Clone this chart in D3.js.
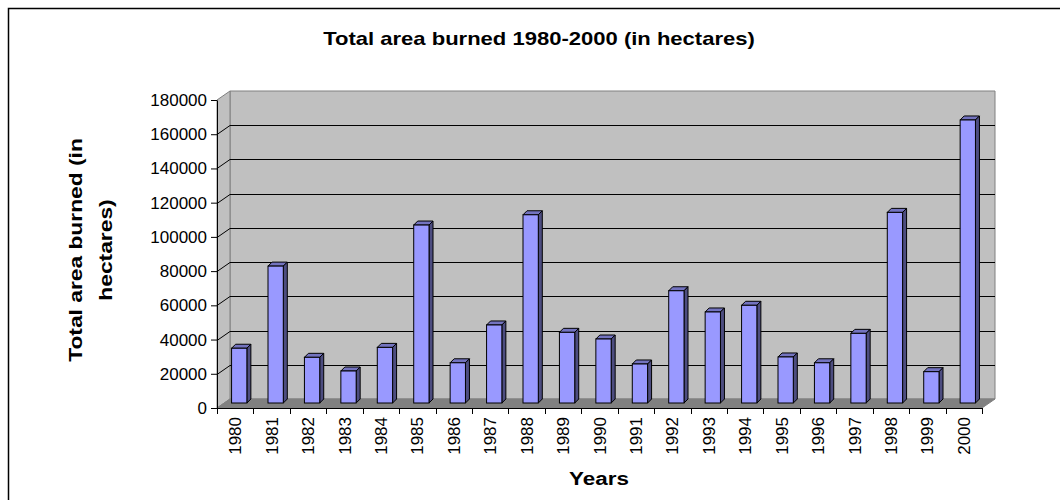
<!DOCTYPE html>
<html>
<head>
<meta charset="utf-8">
<script src="https://cdn.jsdelivr.net/npm/d3@7"></script>
<style>
  body { margin:0; background:#fff; }
  svg text { font-family: "Liberation Sans", Arial, sans-serif; fill:#000; }
</style>
</head>
<body>
<div id="chart"></div>
<script>
// Total area burned 1980-2000 — 3D-style column chart

const years = ["1980","1981","1982","1983","1984","1985","1986","1987","1988","1989","1990",
               "1991","1992","1993","1994","1995","1996","1997","1998","1999","2000"];
const areaBurned = [32000, 80000, 26700, 18700, 32500, 104000, 23500, 45600, 110000, 41300, 37400,
                    22800, 65600, 53200, 57100, 26900, 23500, 40700, 111400, 18300, 165400];
const yTicks = [0, 20000, 40000, 60000, 80000, 100000, 120000, 140000, 160000, 180000];

const W = 1060, H = 500;
const depth = { dx: 13, dy: -9 };      // wall depth
const barDepth = { dx: 4, dy: -4 };    // column depth
const barShift = { dx: 0, dy: -5 };    // columns sit inside the box

const svg = d3.select("#chart").append("svg").attr("width", W).attr("height", H);

// outer frame (runs off the right/bottom edge)
svg.append("rect")
  .attr("x", 8.5).attr("y", 8.5).attr("width", 1100).attr("height", 600)
  .attr("fill", "#fff").attr("stroke", "#000").attr("stroke-width", 1.5);

const x = d3.scaleBand().domain(years).range([217, 982]).padding(0);
const y = d3.scaleLinear().domain([0, 180000]).range([408, 100]);

const x0 = x.range()[0], x1 = x.range()[1];
const yTop = y(180000), yBot = y(0);

const pts = a => a.map(p => p.join(",")).join(" ");

// back wall
svg.append("polygon")
  .attr("points", pts([[x0+depth.dx, yTop+depth.dy],[x1+depth.dx, yTop+depth.dy],
                       [x1+depth.dx, yBot+depth.dy],[x0+depth.dx, yBot+depth.dy]]))
  .attr("fill", "#c0c0c0").attr("stroke", "#808080");
// side wall
svg.append("polygon")
  .attr("points", pts([[x0, yTop],[x0+depth.dx, yTop+depth.dy],[x0+depth.dx, yBot+depth.dy],[x0, yBot]]))
  .attr("fill", "#c0c0c0").attr("stroke", "#808080");
// floor
svg.append("polygon")
  .attr("points", pts([[x0, yBot],[x0+depth.dx, yBot+depth.dy],[x1+depth.dx, yBot+depth.dy],[x1, yBot]]))
  .attr("fill", "#808080").attr("stroke", "#808080");

// gridlines (side wall diagonal + back wall)
const grid = svg.append("g").attr("stroke", "#000").attr("stroke-width", 1).attr("fill", "none");
yTicks.filter(v => v > 0 && v < 180000).forEach(v => {
  const yy = Math.round(y(v)) + 0.5;
  grid.append("polyline")
    .attr("points", pts([[x0, yy],[x0+depth.dx, yy+depth.dy],[x1+depth.dx, yy+depth.dy]]));
});

// columns
const bw = x.bandwidth() * 0.42;
const bars = svg.append("g").selectAll("g").data(years.map((yr,i)=>({yr, v: areaBurned[i]}))).enter().append("g");
const bx = d => x(d.yr) + x.bandwidth()*0.4 + barShift.dx;
const by = d => y(d.v) + barShift.dy;
const bb = yBot + barShift.dy;

bars.append("polygon") // top
  .attr("points", d => pts([[bx(d), by(d)],[bx(d)+barDepth.dx, by(d)+barDepth.dy],
                            [bx(d)+bw+barDepth.dx, by(d)+barDepth.dy],[bx(d)+bw, by(d)]]))
  .attr("fill", "#7373bf").attr("stroke", "#000").attr("stroke-linejoin", "round");
bars.append("polygon") // side
  .attr("points", d => pts([[bx(d)+bw, by(d)],[bx(d)+bw+barDepth.dx, by(d)+barDepth.dy],
                            [bx(d)+bw+barDepth.dx, bb+barDepth.dy],[bx(d)+bw, bb]]))
  .attr("fill", "#4d4d80").attr("stroke", "#000").attr("stroke-linejoin", "round");
bars.append("rect") // front
  .attr("x", bx).attr("y", by).attr("width", bw).attr("height", d => bb - by(d))
  .attr("fill", "#9999ff").attr("stroke", "#000");

// y axis
const yAxis = svg.append("g").attr("transform", `translate(${x0},0)`)
  .call(d3.axisLeft(y).tickValues(yTicks).tickSize(6).tickSizeOuter(0).tickPadding(4).tickFormat(d3.format("d")));
yAxis.select(".domain").attr("stroke", "#000");
yAxis.selectAll("line").attr("stroke", "#000");
yAxis.selectAll("text").style("font-size", "17px").style("font-family", "Liberation Sans, Arial, sans-serif");

// x axis
svg.append("line").attr("x1", x0).attr("x2", x1).attr("y1", yBot+0.5).attr("y2", yBot+0.5).attr("stroke", "#000");
svg.append("g").selectAll("line").data(years.concat(["end"])).enter().append("line")
  .attr("x1", d => Math.round(d === "end" ? x1 : x(d)) + 0.5)
  .attr("x2", d => Math.round(d === "end" ? x1 : x(d)) + 0.5)
  .attr("y1", yBot).attr("y2", yBot + 6).attr("stroke", "#000");
svg.append("g").selectAll("text").data(years).enter().append("text")
  .attr("transform", d => `translate(${x(d) + x.bandwidth()/2 + 6},${yBot + 9}) rotate(-90)`)
  .attr("text-anchor", "end")
  .style("font-size", "17px")
  .text(d => d);

// titles (the original's bold face is wide, so stretch horizontally)
svg.append("text").attr("transform", "translate(539,45) scale(1.16,1)").attr("text-anchor", "middle")
  .style("font-size", "19px").style("font-weight", "bold")
  .text("Total area burned 1980-2000 (in hectares)");
svg.append("text").attr("transform", "translate(599,485) scale(1.18,1)").attr("text-anchor", "middle")
  .style("font-size", "19px").style("font-weight", "bold")
  .text("Years");
const yt = svg.append("text").attr("transform", "translate(82,250) rotate(-90) scale(1.2,1)")
  .attr("text-anchor", "middle").style("font-size", "19px").style("font-weight", "bold");
yt.append("tspan").attr("x", 0).attr("y", 0).text("Total area burned (in");
yt.append("tspan").attr("x", 0).attr("y", 30).text("hectares)");
</script>
</body>
</html>
